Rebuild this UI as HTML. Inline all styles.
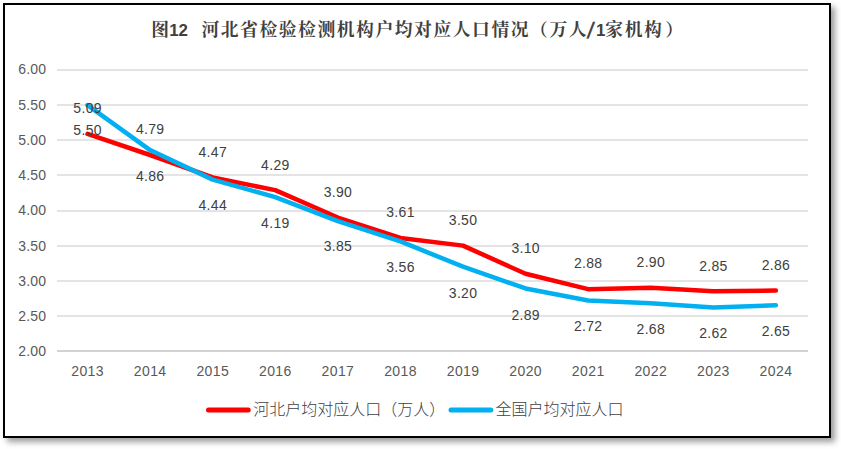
<!DOCTYPE html>
<html lang="zh-CN"><head><meta charset="utf-8"><title>图12 河北省检验检测机构户均对应人口情况</title>
<style>
html,body{margin:0;padding:0;background:#fff;}
body{width:841px;height:449px;position:relative;overflow:hidden;font-family:"Liberation Sans","Noto Sans CJK SC",sans-serif;}
#frame{position:absolute;left:3px;top:3px;width:824px;height:431px;border:2px solid #000;background:#fff;box-shadow:3.5px 3.5px 6px rgba(0,0,0,.39);}
svg{position:absolute;left:0;top:0;}
.n{font-family:"Liberation Sans",sans-serif;font-size:14.0px;fill:#595959;text-anchor:middle;letter-spacing:0.4px;}
.d{fill:#404040;letter-spacing:0.3px;}
.y{letter-spacing:0.2px;}
.t{font-family:"Liberation Serif","Noto Serif CJK SC",serif;font-weight:bold;font-size:17.8px;fill:#404040;}
.tn{font-family:"Liberation Sans",sans-serif;font-weight:bold;font-size:16.9px;fill:#404040;}
.lg{font-family:"Liberation Sans","Noto Sans CJK SC",sans-serif;font-weight:300;font-size:16px;fill:#404040;}
</style></head><body>
<div id="frame"></div>
<svg width="841" height="449" viewBox="0 0 841 449">
<g stroke="#e4e4e4" stroke-width="2" fill="none">
<line x1="57.00" y1="316.00" x2="808.00" y2="316.00"/>
<line x1="57.00" y1="281.00" x2="808.00" y2="281.00"/>
<line x1="57.00" y1="246.00" x2="808.00" y2="246.00"/>
<line x1="57.00" y1="211.00" x2="808.00" y2="211.00"/>
<line x1="57.00" y1="175.00" x2="808.00" y2="175.00"/>
<line x1="57.00" y1="140.00" x2="808.00" y2="140.00"/>
<line x1="57.00" y1="105.00" x2="808.00" y2="105.00"/>
<line x1="57.00" y1="70.00" x2="808.00" y2="70.00"/>
<line x1="57.00" y1="351" x2="808.00" y2="351" stroke="#d3d3d3" stroke-width="2"/>
</g>
<polyline points="87.50,133.93 150.08,155.00 212.66,177.48 275.24,190.13 337.82,217.53 400.40,237.90 462.98,245.62 525.56,273.73 588.14,289.18 650.72,287.77 713.30,291.29 775.88,290.59" fill="none" stroke="#ff0000" stroke-width="4.5" stroke-linecap="round" stroke-linejoin="round"/>
<polyline points="87.50,105.12 150.08,150.08 212.66,179.59 275.24,197.15 337.82,221.04 400.40,241.41 462.98,266.70 525.56,288.48 588.14,300.42 650.72,303.23 713.30,307.44 775.88,305.34" fill="none" stroke="#00b0f0" stroke-width="4.5" stroke-linecap="round" stroke-linejoin="round"/>
<g class="n">
<text class="y" x="32.3" y="356.36">2.00</text>
<text class="y" x="32.3" y="321.01">2.50</text>
<text class="y" x="32.3" y="286.01">3.00</text>
<text class="y" x="32.3" y="251.01">3.50</text>
<text class="y" x="32.3" y="215.31">4.00</text>
<text class="y" x="32.3" y="180.01">4.50</text>
<text class="y" x="32.3" y="145.01">5.00</text>
<text class="y" x="32.3" y="110.01">5.50</text>
<text class="y" x="32.3" y="74.11">6.00</text>
<text x="87.60" y="375.91">2013</text>
<text x="150.18" y="375.91">2014</text>
<text x="212.76" y="375.91">2015</text>
<text x="275.34" y="375.91">2016</text>
<text x="337.92" y="375.91">2017</text>
<text x="400.50" y="375.91">2018</text>
<text x="463.08" y="375.91">2019</text>
<text x="525.66" y="375.91">2020</text>
<text x="588.24" y="375.91">2021</text>
<text x="650.82" y="375.91">2022</text>
<text x="713.40" y="375.91">2023</text>
<text x="775.98" y="375.91">2024</text>
</g><g class="n d">
<text x="87.60" y="112.94">5.09</text>
<text x="150.18" y="134.01">4.79</text>
<text x="212.76" y="157.39">4.47</text>
<text x="275.34" y="170.14">4.29</text>
<text x="337.92" y="196.54">3.90</text>
<text x="400.50" y="216.91">3.61</text>
<text x="463.08" y="224.64">3.50</text>
<text x="525.66" y="252.74">3.10</text>
<text x="588.24" y="268.19">2.88</text>
<text x="650.82" y="266.79">2.90</text>
<text x="713.40" y="271.00">2.85</text>
<text x="775.98" y="269.60">2.86</text>
<text x="87.60" y="135.14">5.50</text>
<text x="150.18" y="181.10">4.86</text>
<text x="212.76" y="209.80">4.44</text>
<text x="275.34" y="228.16">4.19</text>
<text x="337.92" y="251.35">3.85</text>
<text x="400.50" y="272.42">3.56</text>
<text x="463.08" y="297.71">3.20</text>
<text x="525.66" y="320.49">2.89</text>
<text x="588.24" y="331.43">2.72</text>
<text x="650.82" y="334.24">2.68</text>
<text x="713.40" y="338.46">2.62</text>
<text x="775.98" y="336.35">2.65</text>
</g>
<text class="t" x="151.25" y="35.87">图</text>
<text class="tn" x="169.2" y="35.8">12</text>
<text class="t" x="201.45" y="35.87" letter-spacing="1.55">河北省检验检测机构户均对应人口情况（万人</text>
<text class="tn" transform="translate(586.8,37.6) skewX(-7)" style="font-size:22px;font-weight:normal;stroke:#404040;stroke-width:0.5px">/</text>
<text class="tn" x="596.1" y="35.8">1</text>
<text class="t" x="605.3" y="35.87" letter-spacing="1.55">家机构</text>
<text class="t" x="665.2" y="35.87">）</text>
<line x1="208.5" y1="409.9" x2="248.2" y2="409.9" stroke="#ff0000" stroke-width="5" stroke-linecap="round"/>
<text class="lg" x="253.2" y="415.3">河北户均对应人口（万人）</text>
<line x1="451" y1="409.9" x2="490.8" y2="409.9" stroke="#00b0f0" stroke-width="5" stroke-linecap="round"/>
<text class="lg" x="495.6" y="415.3">全国户均对应人口</text>
</svg>
</body></html>
